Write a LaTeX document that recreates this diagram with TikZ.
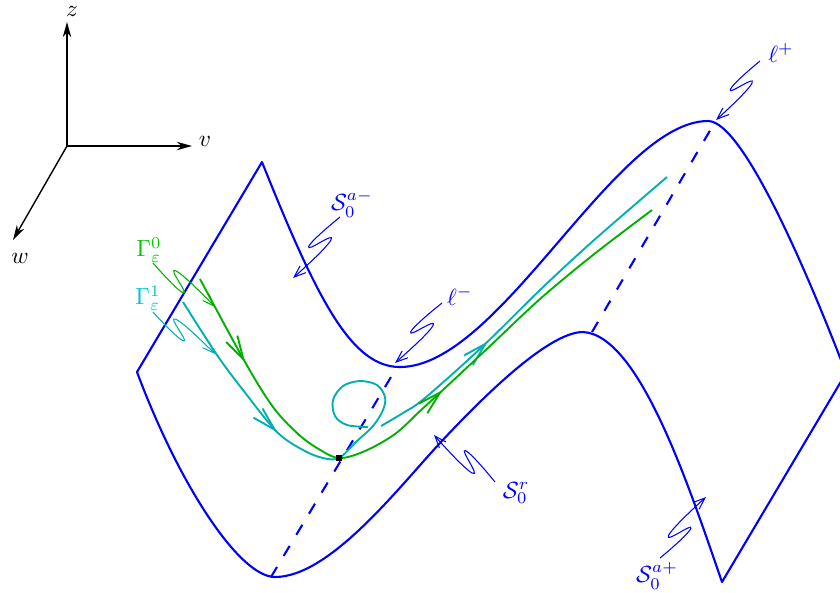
\documentclass[tikz,border=0pt]{standalone}
\usepackage{amsmath}
\usepackage{amssymb}
\usetikzlibrary{arrows.meta,calc,decorations.markings}

\definecolor{trajgreen}{RGB}{0,176,0}
\definecolor{trajcyan}{RGB}{0,176,176}
\definecolor{labgreen}{RGB}{0,200,0}
\definecolor{labcyan}{RGB}{0,200,200}

\tikzset{
  flowtip/.tip={Straight Barb[length=10pt,width=5.5pt]},
  surf/.style={blue, line width=0.9pt, line join=round},
  fold/.style={blue, line width=0.9pt, dash pattern=on 5pt off 5.5pt},
  axis/.style={line width=0.6pt, -{Stealth[length=6.5pt,width=3.6pt]}},
  traj/.style={line width=0.8pt, postaction={decorate}},
  lbl/.style={inner sep=0pt},
  lead/.style={line width=0.45pt, -{Straight Barb[length=5pt,width=3.8pt]},
    to path={plot[smooth, tension=1] coordinates {(\tikztostart)
      ($(\tikztostart)!.553!(\tikztotarget)!2.9pt!-90:(\tikztotarget)$)
      ($(\tikztostart)!.303!(\tikztotarget)!2.9pt!90:(\tikztotarget)$)
      (\tikztotarget)}}}
}

\begin{document}
\begin{tikzpicture}[x=0.015cm, y=-0.015cm]
  \useasboundingbox (0,0) rectangle (840,592);

  % axes
  \coordinate (o) at (67,146);
  \coordinate (zt) at (67,22);
  \coordinate (vt) at (192,146);
  \coordinate (wt) at (13,240);
  \draw[axis] (o) -- (zt);
  \draw[axis] (o) -- (vt);
  \draw[axis] (o) -- (wt);
  \node[lbl] (zlab) at (72,11) {$z$};
  \node[lbl] (vlab) at (205,141) {$v$};
  \node[lbl] (wlab) at (20,258) {$w$};

  % critical manifold
  \draw[surf] (137,372) -- (262,162)
    .. controls (318,302) and (352,367) .. (400,367)
    .. controls (500,367) and (615,121) .. (708,121)
    .. controls (745,121) and (815,292) .. (846,373)
    -- (722,582)
    .. controls (690,490) and (640,335) .. (583,332)
    .. controls (548,332) and (481,399) .. (440,443)
    .. controls (399,487) and (330,577) .. (275,577)
    .. controls (240,577) and (180,487) .. (137,372) -- cycle;

  % fold lines
  \draw[fold] (271,577) -- (397,367);
  \draw[fold] (592,332) -- (715,122);

  % trajectories
  \draw[traj, trajcyan, decoration={markings, mark=at position 0.374 with {\arrow{flowtip}}}]
    plot[smooth, tension=0.55] coordinates {(183,302) (217,355) (243,390) (277,432) (303,450)
      (323,458) (339,458) (357,441) (373,426) (383,410) (385,397) (377,385) (360,381) (343,386)
      (333,400) (335,416) (347,425) (368,427)};
  \draw[traj, trajcyan, decoration={markings, mark=at position 0.36 with {\arrow{flowtip}}}]
    plot[smooth, tension=0.55] coordinates {(381,426) (403,413) (425,398) (482,347) (540,290)
      (593,241) (667,177)};
  \draw[traj, trajgreen, decoration={markings, mark=at position 0.149 with {\arrow{flowtip}},
      mark=at position 0.565 with {\arrow{flowtip}}}]
    plot[smooth, tension=0.55] coordinates {(200,279) (245,362) (273,407) (297,433) (317,448)
      (339,458) (365,451) (395,434) (420,411) (445,388) (490,346) (540,299) (593,255) (652,210)};
  \node[fill=black, inner sep=0pt, minimum size=2.2pt] (eq) at (339,458) {};

  % labels
  \node[lbl, labgreen] (g0) at (149,250) {$\Gamma^0_\varepsilon$};
  \node[lbl, labcyan] (g1) at (148,298) {$\Gamma^1_\varepsilon$};
  \node[lbl, blue] (sam) at (352,204) {$\mathcal{S}_0^{a-}$};
  \node[lbl, blue] (lm) at (460,296) {$\ell^-$};
  \node[lbl, blue] (lp) at (781,53) {$\ell^+$};
  \node[lbl, blue] (sr) at (516,493) {$\mathcal{S}_0^{r}$};
  \node[lbl, blue] (sap) at (657,576) {$\mathcal{S}_0^{a+}$};

  \coordinate (g0-s) at (153,263);  \coordinate (g0-t) at (215,307);
  \coordinate (g1-s) at (153,312);  \coordinate (g1-t) at (215,354);
  \coordinate (sam-s) at (340,217); \coordinate (sam-t) at (293,278);
  \coordinate (lm-s) at (442,303);  \coordinate (lm-t) at (395,363);
  \coordinate (lp-s) at (760,61);   \coordinate (lp-t) at (716,120);
  \coordinate (sr-s) at (495,482);  \coordinate (sr-t) at (434,435);
  \coordinate (sap-s) at (660,558); \coordinate (sap-t) at (706,497);

  \draw[lead, trajgreen] (g0-s) to (g0-t);
  \draw[lead, trajcyan] (g1-s) to (g1-t);
  \draw[lead, blue] (sam-s) to (sam-t);
  \draw[lead, blue] (lm-s) to (lm-t);
  \draw[lead, blue] (lp-s) to (lp-t);
  \draw[lead, blue] (sr-s) to (sr-t);
  \draw[lead, blue] (sap-s) to (sap-t);
\end{tikzpicture}
\end{document}
